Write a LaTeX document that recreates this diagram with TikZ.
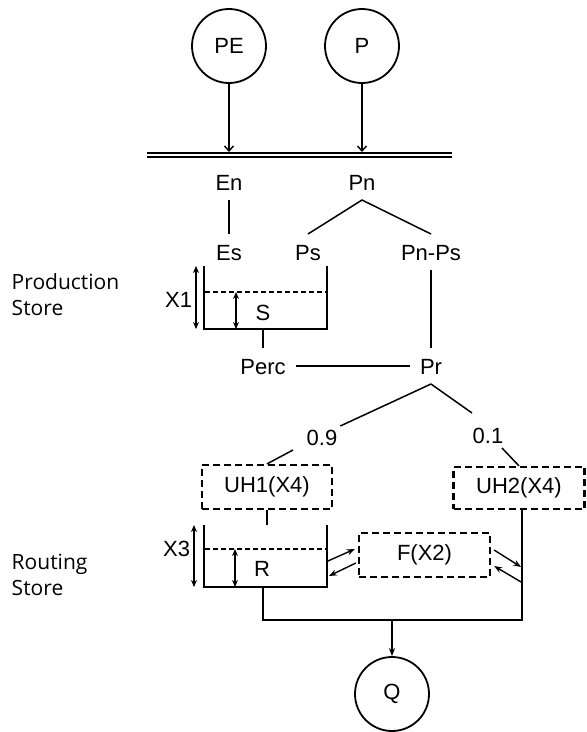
\documentclass[tikz,border=0pt]{standalone}
\usepackage{fontspec}
\setmainfont{Liberation Sans}
\newfontfamily\sidefont{Open Sans}
\usetikzlibrary{arrows.meta}

\tikzset{
  lbl/.style={inner sep=0pt, outer sep=10pt, text height=16pt, text depth=0pt, font=\fontsize{22}{26}\selectfont},
  splitlbl/.style={lbl, outer sep=3pt},
  gaugelbl/.style={lbl, outer sep=0pt, inner sep=2pt},
  waterline/.style={line width=1.3pt, dash pattern=on 5pt off 3pt},
  gauge/.style={line width=1.4pt, {Stealth[length=7pt,width=6pt]}-{Stealth[length=7pt,width=6pt]}},
  flux/.style={line width=1.4pt, -{Stealth[length=8pt,width=6pt]}},
  feed/.style={line width=1.4pt, -{Straight Barb[length=5pt,width=9pt]}},
  forcing/.style={circle, draw, line width=1.8pt, minimum size=74pt, inner sep=0pt, font=\fontsize{22}{26}\selectfont},
  uhbox/.style={draw, line width=2.2pt, dash pattern=on 7pt off 4pt, minimum width=130pt, minimum height=44pt, inner sep=0pt, font=\fontsize{22}{26}\selectfont},
  storelbl/.style={align=left, inner sep=0pt, anchor=west, font=\sidefont\fontsize{21}{26}\selectfont}
}

\begin{document}
\begin{tikzpicture}[x=1pt, y=-1pt, line width=1.5pt]

  \useasboundingbox (0,0) rectangle (587,732);

  % Inputs and output
  \node[forcing] (PE) at (229,46) {PE};
  \node[forcing] (P) at (362,46) {P};
  \node[forcing] (Q) at (392,694) {Q};

  % Interception bar
  \coordinate (barL) at (147,155);
  \coordinate (barR) at (452,155);
  \draw[double, double distance=2.4pt] (barL) -- (barR);
  \draw[feed] (PE.south) -- ([yshift=3pt]PE.south |- barL);
  \draw[feed] (P.south) -- ([yshift=3pt]P.south |- barL);

  % Net inputs
  \node[lbl] (En) at (229,182) {En};
  \node[lbl] (Pn) at (362,182) {Pn};
  \node[lbl] (Es) at (229,252) {Es};
  \node[lbl] (Ps) at (308,252) {Ps};
  \node[lbl] (PnPs) at (431,252) {Pn-Ps};
  \draw (En) -- (Es);
  \draw (Ps.north) -- (Pn.south) -- (PnPs.north);

  % Production store
  \node[storelbl] (prodlbl) at (11,295) {Production\\Store};
  \coordinate (pstTL) at (204,266);
  \coordinate (pstBL) at (204,329);
  \coordinate (pstBR) at (327,329);
  \coordinate (pstTR) at (327,266);
  \draw (pstTL) -- (pstBL) -- (pstBR) -- (pstTR);
  \draw[waterline] (205,292) -- (326,292);
  \draw[gauge] (196,266) -- (196,329);
  \node[gaugelbl, anchor=east] (X1) at (194,299) {X1};
  \draw[gauge] (236,292) -- (236,329);
  \node[lbl] (S) at (263,312) {S};

  % Percolation and routed rainfall
  \node[lbl] (Perc) at (263,366) {Perc};
  \node[lbl] (Pr) at (431,366) {Pr};
  \draw (Perc.north |- pstBL) -- (Perc);
  \draw (PnPs) -- (Pr);
  \draw (Perc) -- (Pr);

  % Split between the unit hydrographs
  \node[splitlbl] (s09) at (322,437) {0.9};
  \node[splitlbl] (s01) at (488,435) {0.1};
  \draw (Pr.south) -- (s09.north east);
  \draw (Pr.south) -- ([shift={(-16,-11)}]s01.north);

  \node[uhbox] (UH1) at (267,487) {UH1(X4)};
  \node[uhbox, minimum width=131pt, minimum height=42pt] (UH2) at (519,488) {UH2(X4)};
  \draw ([shift={(-29,2)}]s09.south) -- (UH1.north);
  \draw ([shift={(14,2)}]s01.south) -- (UH2.north);

  % Routing store
  \node[storelbl] (routlbl) at (11,575) {Routing\\Store};
  \coordinate (rstTL) at (204,525);
  \coordinate (rstBL) at (204,587);
  \coordinate (rstBR) at (327,587);
  \coordinate (rstTR) at (327,525);
  \draw (rstTL) -- (rstBL) -- (rstBR) -- (rstTR);
  \draw[waterline] (205,549) -- (326,549);
  \draw[gauge] (194,525) -- (194,587);
  \node[gaugelbl, anchor=east] (X3) at (192,548) {X3};
  \draw[gauge] (235,549) -- (235,587);
  \node[lbl] (R) at (262,568) {R};
  \draw (UH1.south) -- (UH1.south |- rstTL);

  % Groundwater exchange
  \node[uhbox, minimum width=131pt] (F) at (424.5,555) {F(X2)};
  \draw[flux] ([shift={(-30,6)}]F.west) -- ([shift={(-3,-6)}]F.west);
  \draw[flux] ([shift={(-2,8)}]F.west) -- ([shift={(-29,21)}]F.west);
  \draw[flux] ([shift={(3,-5)}]F.east) -- ([shift={(30,12)}]F.east);
  \draw[flux] ([shift={(30,27)}]F.east) -- ([shift={(3,11)}]F.east);

  % Total streamflow
  \coordinate (qL) at (263,620);
  \coordinate (qR) at (522,620);
  \draw (UH2.south -| qR) -- (qR) -- (qL) -- (qL |- rstBL);
  \draw[flux] (Q.north |- qL) -- (Q.north);

\end{tikzpicture}
\end{document}
